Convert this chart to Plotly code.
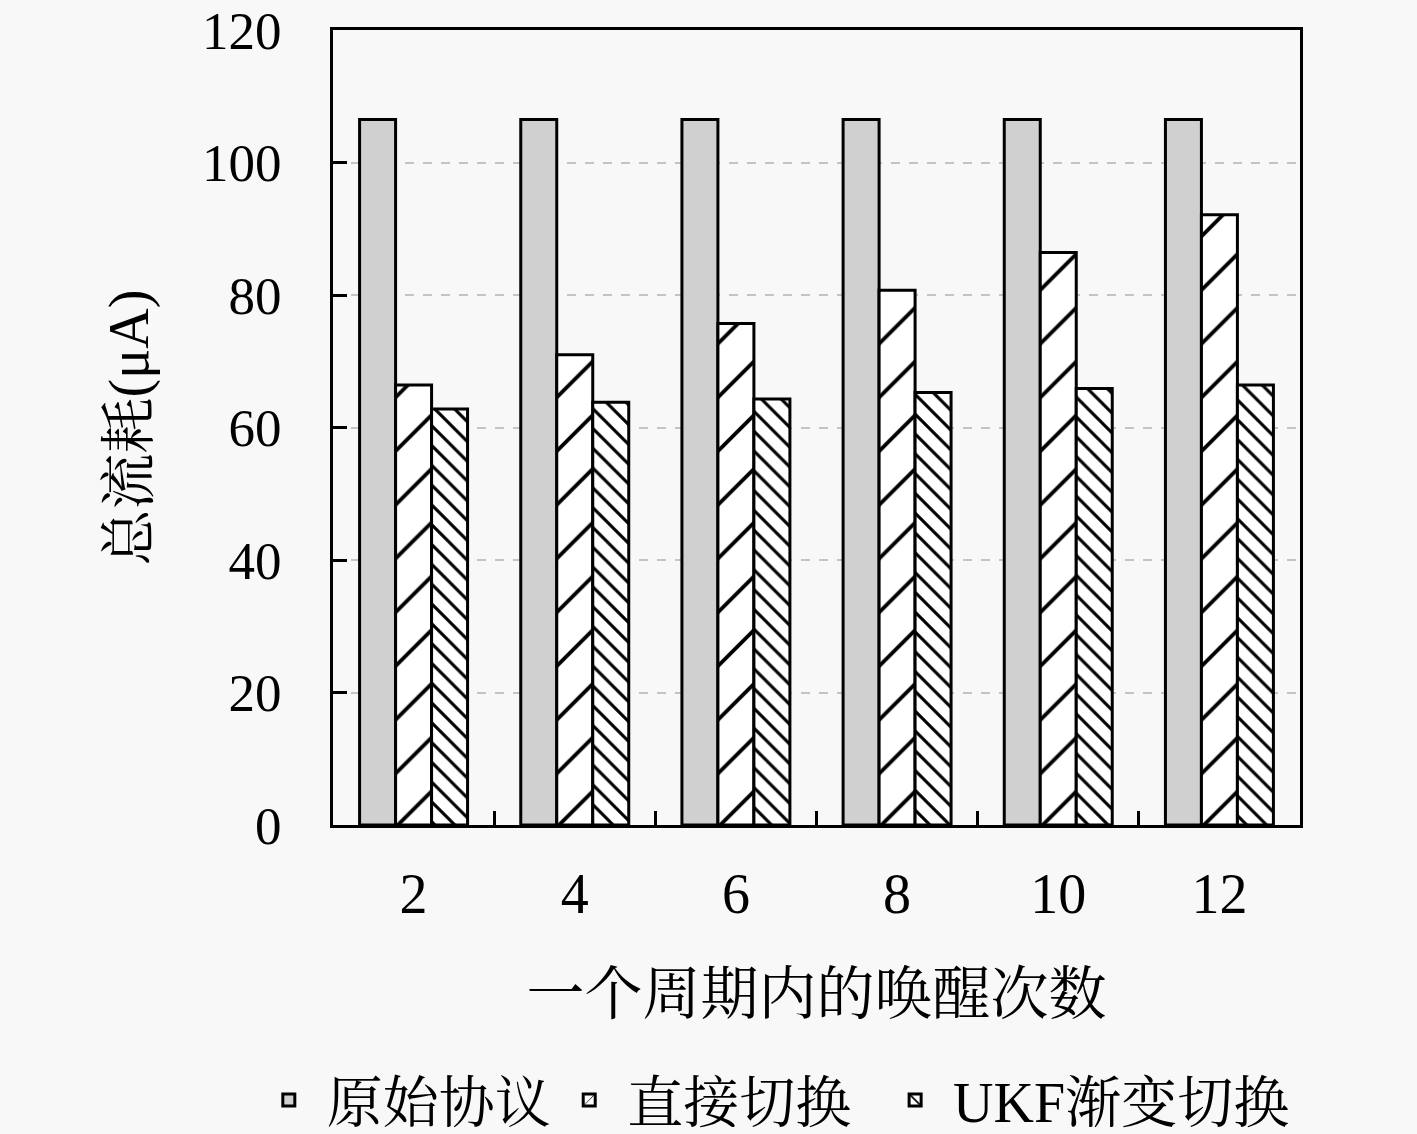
import plotly.graph_objects as go

# 一个周期内的唤醒次数
wakeups = ["2", "4", "6", "8", "10", "12"]

# 总流耗 (μA)
original = [106.5, 106.5, 106.5, 106.5, 106.5, 106.5]
direct = [66.4, 71.0, 75.7, 80.7, 86.4, 92.1]
ukf = [62.8, 63.8, 64.3, 65.3, 65.9, 66.4]

series_names = ["原始协议", "直接切换", "UKF渐变切换"]
y_ticks = [0, 20, 40, 60, 80, 100, 120]

SERIF = "Liberation Serif, Noto Serif CJK SC, Noto Sans CJK SC, serif"
BG = "#f8f8f8"

fig = go.Figure()

fig.add_trace(go.Bar(
    x=wakeups, y=original, name=series_names[0], legend="legend",
    marker=dict(color="#d0d0d0", line=dict(color="black", width=3)),
))
fig.add_trace(go.Bar(
    x=wakeups, y=direct, name=series_names[1], legend="legend2",
    marker=dict(
        color="white",
        line=dict(color="black", width=3),
        pattern=dict(shape="/", size=38, solidity=0.1,
                     fgcolor="black", bgcolor="white", fillmode="replace"),
    ),
))
fig.add_trace(go.Bar(
    x=wakeups, y=ukf, name=series_names[2], legend="legend3",
    marker=dict(
        color="white",
        line=dict(color="black", width=3),
        pattern=dict(shape="\\", size=14, solidity=0.22,
                     fgcolor="black", bgcolor="white", fillmode="replace"),
    ),
))

# one legend per series so each entry can sit where the original puts it
legend_style = dict(
    orientation="h", xref="container", yref="container",
    xanchor="left", y=0.03, yanchor="middle",
    font=dict(size=56), bgcolor="rgba(0,0,0,0)", itemwidth=66,
)

fig.update_layout(
    width=1417, height=1134,
    paper_bgcolor=BG, plot_bgcolor=BG,
    barmode="group", bargap=0.33, bargroupgap=0,
    margin=dict(l=333, r=117, t=30, b=309),
    font=dict(family=SERIF, size=56, color="black"),
    showlegend=True,
    legend=dict(legend_style, x=0.177),
    legend2=dict(legend_style, x=0.389),
    legend3=dict(legend_style, x=0.619),
)

fig.update_xaxes(
    type="category", automargin=False,
    showline=True, linecolor="black", linewidth=3, mirror=True,
    ticks="inside", tickson="boundaries", ticklen=14, tickwidth=3, tickcolor="black",
    showgrid=False,
    ticklabelstandoff=18,
    tickfont=dict(size=56),
    title=dict(text="一个周期内的唤醒次数", font=dict(size=58), standoff=50),
)

fig.update_yaxes(
    range=[0, 120], tickvals=y_ticks, automargin=False,
    showline=True, linecolor="black", linewidth=3, mirror=True,
    ticks="inside", ticklen=14, tickwidth=3, tickcolor="black",
    showgrid=True, gridcolor="#c4c4c4", griddash="dash", gridwidth=2,
    zeroline=False,
    ticklabelstandoff=38, ticklabeloverflow="allow",
    tickfont=dict(size=53),
    title=dict(text="总流耗(μA)", font=dict(size=56), standoff=36),
)

fig.write_html(
    "out.html",
    config={"displayModeBar": False},
    post_script="document.body.style.margin='0';",
)
